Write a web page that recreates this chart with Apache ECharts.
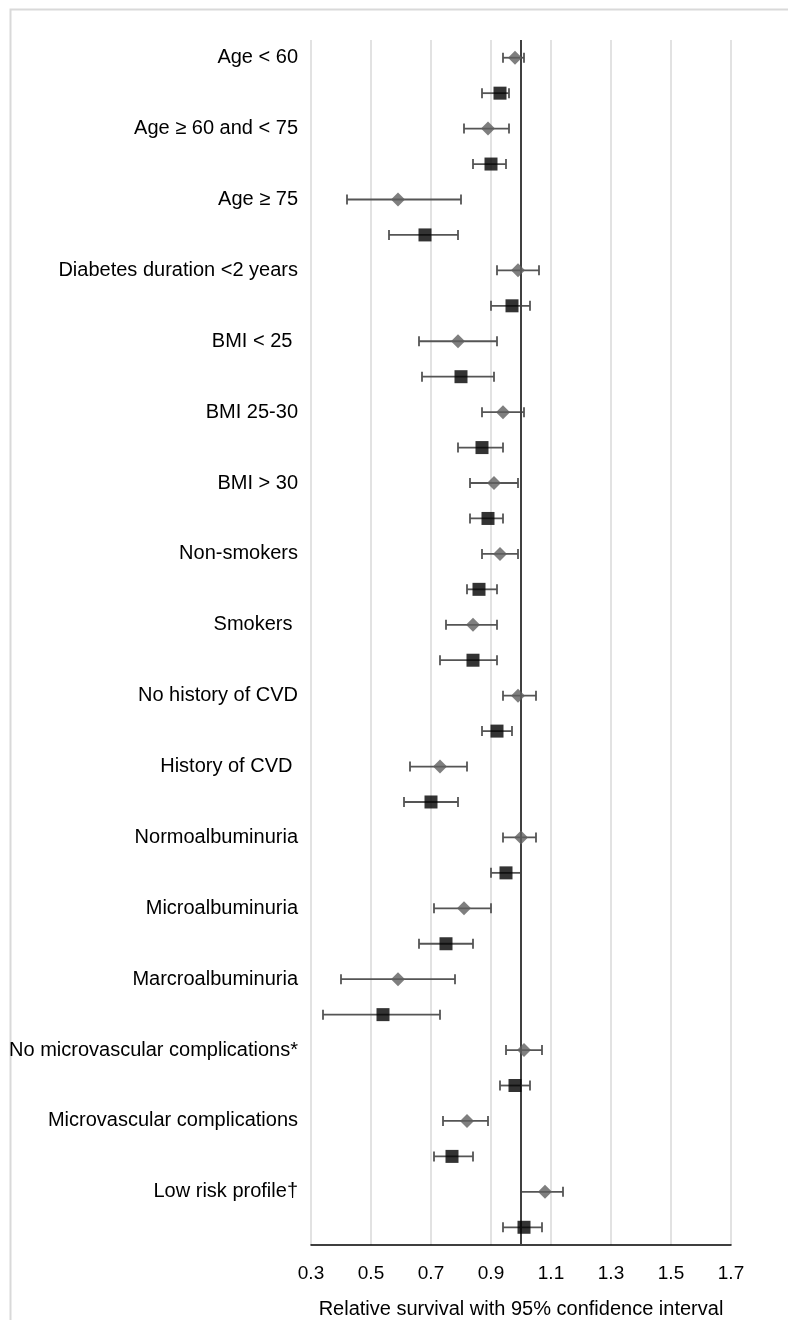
<!DOCTYPE html>
<html>
<head>
<meta charset="utf-8">
<script src="https://cdn.jsdelivr.net/npm/echarts@6/dist/echarts.min.js"></script>
<style>
html,body{margin:0;padding:0;background:#fff;}
#chart{width:788px;height:1320px;}
</style>
</head>
<body>
<div id="chart"></div>
<script>
var labels = ['Age < 60','Age \u2265 60 and < 75','Age \u2265 75','Diabetes duration <2 years','BMI < 25 ','BMI 25-30','BMI > 30','Non-smokers','Smokers ','No history of CVD','History of CVD ','Normoalbuminuria','Microalbuminuria','Marcroalbuminuria','No microvascular complications*','Microvascular complications','Low risk profile\u2020'];
var diamondEst  = [0.98,0.89,0.59,0.99,0.79,0.94,0.91,0.93,0.84,0.99,0.73,1.00,0.81,0.59,1.01,0.82,1.08];
var diamondLow  = [0.94,0.81,0.42,0.92,0.66,0.87,0.83,0.87,0.75,0.94,0.63,0.94,0.71,0.40,0.95,0.74,1.00];
var diamondHigh = [1.01,0.96,0.80,1.06,0.92,1.01,0.99,0.99,0.92,1.05,0.82,1.05,0.90,0.78,1.07,0.89,1.14];
var squareEst   = [0.93,0.90,0.68,0.97,0.80,0.87,0.89,0.86,0.84,0.92,0.70,0.95,0.75,0.54,0.98,0.77,1.01];
var squareLow   = [0.87,0.84,0.56,0.90,0.67,0.79,0.83,0.82,0.73,0.87,0.61,0.90,0.66,0.34,0.93,0.71,0.94];
var squareHigh  = [0.96,0.95,0.79,1.03,0.91,0.94,0.94,0.92,0.92,0.97,0.79,1.00,0.84,0.73,1.03,0.84,1.07];
var xTicks = [0.3,0.5,0.7,0.9,1.1,1.3,1.5,1.7];
var refValue = 1.0;
var xTitle = 'Relative survival with 95% confidence interval';

var FONT = "'Liberation Sans', Arial, Helvetica, sans-serif";
var cats = [];
labels.forEach(function(l){ cats.push(l); cats.push(''); });

var diamondPts = [], squarePts = [], errData = [];
labels.forEach(function(l, i){
  diamondPts.push([diamondEst[i], 2*i]);
  squarePts.push([squareEst[i], 2*i+1]);
  errData.push([diamondLow[i], 2*i, diamondHigh[i]]);
  errData.push([squareLow[i], 2*i+1, squareHigh[i]]);
});

var chart = echarts.init(document.getElementById('chart'), null, {renderer:'canvas'});
chart.setOption({
  animation: false,
  backgroundColor: '#fff',
  graphic: [{
    type: 'rect', left: 8, top: 7, z: -10, silent: true,
    shape: {width: 800, height: 1330},
    style: {fill: 'none', stroke: '#d9d9d9', lineWidth: 2}
  }],
  grid: {left: 311, right: 57, top: 40, bottom: 75, containLabel: false, outerBoundsMode: 'none'},
  xAxis: {
    type: 'value', min: xTicks[0], max: xTicks[xTicks.length-1], interval: 0.2,
    axisLine: {show: true, onZero: false, lineStyle: {color: '#000', width: 1.5}},
    axisTick: {show: false},
    splitLine: {show: true, lineStyle: {color: '#d9d9d9', width: 1.5}},
    axisLabel: {color: '#000', fontSize: 19, fontFamily: FONT, margin: 19,
      formatter: function(v){ return (+v).toFixed(1); }},
    name: xTitle, nameLocation: 'middle', nameGap: 54,
    nameTextStyle: {color: '#000', fontSize: 20, fontFamily: FONT}
  },
  yAxis: {
    type: 'category', inverse: true, data: cats,
    axisLine: {show: false}, axisTick: {show: false}, splitLine: {show: false},
    axisLabel: {interval: 0, color: '#000', fontSize: 20, fontFamily: FONT, margin: 13}
  },
  series: [
    {
      type: 'custom', z: 2,
      data: errData,
      renderItem: function(params, api){
        var p1 = api.coord([api.value(0), api.value(1)]);
        var p2 = api.coord([api.value(2), api.value(1)]);
        var h = 5;
        var st = {stroke: '#555555', lineWidth: 1.8};
        return {type: 'group', children: [
          {type: 'line', shape: {x1: p1[0], y1: p1[1], x2: p2[0], y2: p2[1]}, style: st},
          {type: 'line', shape: {x1: p1[0], y1: p1[1]-h, x2: p1[0], y2: p1[1]+h}, style: st},
          {type: 'line', shape: {x1: p2[0], y1: p2[1]-h, x2: p2[0], y2: p2[1]+h}, style: st}
        ]};
      }
    },
    {
      type: 'scatter', z: 5, symbol: 'diamond', symbolSize: [14, 14],
      itemStyle: {color: '#5f5f5f'},
      data: diamondPts,
      markLine: {
        silent: true, symbol: 'none', label: {show: false},
        lineStyle: {color: '#404040', width: 2, type: 'solid'},
        data: [{xAxis: refValue}]
      }
    },
    {
      type: 'scatter', z: 5, symbol: 'rect', symbolSize: [13, 13],
      itemStyle: {color: '#000'},
      data: squarePts
    }
  ]
});
</script>
</body>
</html>
